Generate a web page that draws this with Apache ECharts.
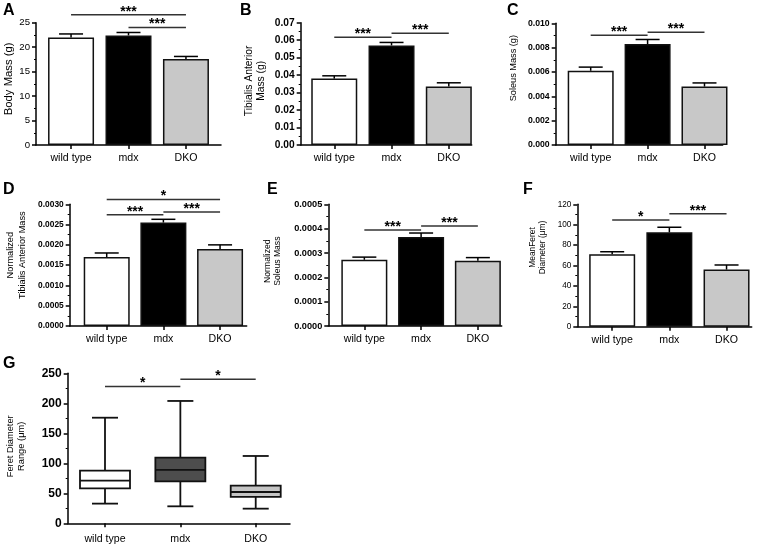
<!DOCTYPE html>
<html><head><meta charset="utf-8">
<script src="https://cdn.jsdelivr.net/npm/echarts@6/dist/echarts.min.js"></script>
<style>html,body{margin:0;padding:0;background:#fff}#c{width:763px;height:546px}</style>
</head><body><div id="c"></div>
<script>
// ---------- data ----------
const categories = ['wild type', 'mdx', 'DKO'];

const bodyMass = [22.0, 22.4, 17.6];
const bodyMassSem = [0.7, 0.6, 0.5];
const bodyMassTicks = [0, 5, 10, 15, 20, 25];
const bodyMassSig = [[0, 2, 26.6], [1, 2, 24.0]];
const bodyMassSigLabels = ['***', '***'];

const taMass = [0.038, 0.057, 0.0335];
const taMassSem = [0.0016, 0.0017, 0.0021];
const taMassTicks = [0, 0.01, 0.02, 0.03, 0.04, 0.05, 0.06, 0.07];
const taMassSig = [[0, 1, 0.0617], [1, 2, 0.0639]];
const taMassSigLabels = ['***', '***'];

const soleusMass = [0.0061, 0.0083, 0.0048];
const soleusMassSem = [0.0003, 0.00037, 0.0003];
const soleusMassTicks = [0, 0.002, 0.004, 0.006, 0.008, 0.010];
const soleusMassSig = [[0, 1, 0.00901], [1, 2, 0.00926]];
const soleusMassSigLabels = ['***', '***'];

const normTA = [0.0017, 0.00255, 0.0019];
const normTASem = [0.0001, 0.00008, 0.0001];
const normTATicks = [0, 0.0005, 0.0010, 0.0015, 0.0020, 0.0025, 0.0030];
const normTASig = [[0, 2, 0.00312], [0, 1, 0.00274], [1, 2, 0.00281]];
const normTASigLabels = ['*', '***', '***'];

const normSoleus = [0.000272, 0.000366, 0.000268];
const normSoleusSem = [0.000011, 0.000016, 0.000013];
const normSoleusTicks = [0, 0.0001, 0.0002, 0.0003, 0.0004, 0.0005];
const normSoleusSig = [[0, 1, 0.000394], [1, 2, 0.000411]];
const normSoleusSigLabels = ['***', '***'];

const meanFeret = [71, 92.5, 56];
const meanFeretSem = [2.5, 5, 4.5];
const meanFeretTicks = [0, 20, 40, 60, 80, 100, 120];
const meanFeretSig = [[0, 1, 104.6], [1, 2, 110.8]];
const meanFeretSigLabels = ['*', '***'];

// box: [min, Q1, median, Q3, max]
const feretRangeBoxes = [
  [32.8, 58.3, 71.1, 87.8, 176],
  [28.3, 70, 88.9, 109.4, 203.9],
  [24.4, 43.9, 52.2, 62.8, 112.2]
];
const feretRangeTicks = [0, 50, 100, 150, 200, 250];
const feretRangeSig = [[0, 1, 227.8], [1, 2, 240]];
const feretRangeSigLabels = ['*', '*'];

// ---------- styles ----------
const FONT = '"Liberation Sans", Arial, sans-serif';
const barFills = ['#ffffff', '#000000', '#c8c8c8'];
const boxFills = ['#ffffff', '#4d4d4d', '#c4c4c4'];

const panels = [
  {letter: 'A', lx: 3, ly: 3, grid: {left: 36, top: 22.7, width: 185, height: 122.3}, xMin: -0.61, xMax: 2.61,
   name: 'Body Mass (g)', nameGap: 21, nameSize: 11.3, nameLH: 12, nameShift: 5, tickSize: 9.6, tickWeight: 'normal', dec: 0,
   vals: bodyMass, sem: bodyMassSem, ticks: bodyMassTicks, sig: bodyMassSig, sigL: bodyMassSigLabels},
  {letter: 'B', lx: 240, ly: 3, grid: {left: 300.7, top: 22.7, width: 171, height: 122.3}, xMin: -0.586, xMax: 2.40,
   name: 'Tibialis Anterior\nMass (g)', nameGap: 34, nameSize: 10.3, nameLH: 12, nameShift: 3, tickSize: 10.2, tickWeight: 'bold', dec: 2,
   vals: taMass, sem: taMassSem, ticks: taMassTicks, sig: taMassSig, sigL: taMassSigLabels},
  {letter: 'C', lx: 507, ly: 3, grid: {left: 555.7, top: 23.3, width: 167, height: 121.7}, xMin: -0.615, xMax: 2.32,
   name: 'Soleus Mass (g)', nameGap: 37, nameSize: 9.2, nameLH: 11, nameShift: 16, tickSize: 8.7, tickWeight: 'bold', dec: 3,
   vals: soleusMass, sem: soleusMassSem, ticks: soleusMassTicks, sig: soleusMassSig, sigL: soleusMassSigLabels},
  {letter: 'D', lx: 3, ly: 182, grid: {left: 69.7, top: 204.3, width: 177, height: 121.7}, xMin: -0.653, xMax: 2.47,
   name: 'Normalized\nTibialis Anterior Mass', nameGap: 41, nameSize: 9.2, nameLH: 12, nameShift: 10, tickSize: 8.4, tickWeight: 'bold', dec: 4,
   vals: normTA, sem: normTASem, ticks: normTATicks, sig: normTASig, sigL: normTASigLabels},
  {letter: 'E', lx: 267, ly: 182, grid: {left: 328.3, top: 204.3, width: 173.4, height: 121.7}, xMin: -0.635, xMax: 2.42,
   name: 'Normalized\nSoleus Mass', nameGap: 46, nameSize: 8.6, nameLH: 10, nameShift: 4, tickSize: 9.2, tickWeight: 'bold', dec: 4,
   vals: normSoleus, sem: normSoleusSem, ticks: normSoleusTicks, sig: normSoleusSig, sigL: normSoleusSigLabels},
  {letter: 'F', lx: 523, ly: 182, grid: {left: 577.3, top: 204.3, width: 174.4, height: 122.4}, xMin: -0.61, xMax: 2.44,
   name: 'MeanFeret\nDiameter (\u03bcm)', nameGap: 30, nameSize: 8.4, nameLH: 10, nameShift: 18, tickSize: 8.2, tickWeight: 'normal', dec: 0,
   vals: meanFeret, sem: meanFeretSem, ticks: meanFeretTicks, sig: meanFeretSig, sigL: meanFeretSigLabels},
  {letter: 'G', lx: 3, ly: 356, grid: {left: 67.7, top: 373.3, width: 222.3, height: 150}, xMin: -0.495, xMax: 2.455,
   name: 'Feret Diameter\nRange (\u03bcm)', nameGap: 41, nameSize: 9.3, nameLH: 11, nameShift: 2, tickSize: 12, tickWeight: 'bold', dec: 0,
   boxes: feretRangeBoxes, ticks: feretRangeTicks, sig: feretRangeSig, sigL: feretRangeSigLabels, labelMargin: 10}
];

function errRender(params, api) {
  const x = api.value(0);
  const p0 = api.coord([x, api.value(1)]);
  const p1 = api.coord([x, api.value(2)]);
  const st = {stroke: '#000', lineWidth: 1.5};
  return {type: 'group', children: [
    {type: 'line', shape: {x1: p0[0], y1: p0[1], x2: p1[0], y2: p1[1]}, style: st},
    {type: 'line', shape: {x1: p1[0] - 12, y1: p1[1], x2: p1[0] + 12, y2: p1[1]}, style: st}
  ]};
}

function sigRender(labels) {
  return function (params, api) {
    const a = api.coord([api.value(0), api.value(2)]);
    const b = api.coord([api.value(1), api.value(2)]);
    return {type: 'group', children: [
      {type: 'line', shape: {x1: a[0], y1: a[1], x2: b[0], y2: b[1]}, style: {stroke: '#333', lineWidth: 1.5}},
      {type: 'text', x: (a[0] + b[0]) / 2, y: a[1] + 4,
       style: {text: labels[params.dataIndex], fill: '#000', fontSize: 14, fontWeight: 'bold', fontFamily: FONT,
               align: 'center', verticalAlign: 'bottom'}}
    ]};
  };
}

function boxRender(params, api) {
  const x = api.value(0);
  const c = i => api.coord([x, api.value(i)]);
  const pMin = c(1), pQ1 = c(2), pMed = c(3), pQ3 = c(4), pMax = c(5);
  const cx = pMin[0], hw = 25, cw = 13;
  const st = {stroke: '#111', lineWidth: 1.8};
  return {type: 'group', children: [
    {type: 'line', shape: {x1: cx, y1: pMin[1], x2: cx, y2: pQ1[1]}, style: st},
    {type: 'line', shape: {x1: cx, y1: pQ3[1], x2: cx, y2: pMax[1]}, style: st},
    {type: 'line', shape: {x1: cx - cw, y1: pMin[1], x2: cx + cw, y2: pMin[1]}, style: st},
    {type: 'line', shape: {x1: cx - cw, y1: pMax[1], x2: cx + cw, y2: pMax[1]}, style: st},
    {type: 'rect', shape: {x: cx - hw, y: pQ3[1], width: 2 * hw, height: pQ1[1] - pQ3[1]},
     style: {fill: boxFills[params.dataIndex], stroke: '#111', lineWidth: 1.8}},
    {type: 'line', shape: {x1: cx - hw, y1: pMed[1], x2: cx + hw, y2: pMed[1]}, style: st}
  ]};
}

const option = {animation: false, backgroundColor: '#fff', textStyle: {fontFamily: FONT},
  title: [], grid: [], xAxis: [], yAxis: [], series: []};

panels.forEach((p, i) => {
  option.title.push({text: p.letter, left: p.lx, top: p.ly, padding: 0,
    textStyle: {fontSize: 16, fontWeight: 'bold', color: '#000', fontFamily: FONT}});
  option.grid.push(Object.assign({containLabel: false}, p.grid));
  option.xAxis.push({type: 'value', gridIndex: i, min: p.xMin, max: p.xMax,
    axisLine: {show: true, onZero: false, lineStyle: {color: '#000', width: 1.5}},
    splitLine: {show: false},
    axisTick: {show: true, customValues: [0, 1, 2], length: 4, lineStyle: {color: '#000', width: 1.5}},
    axisLabel: {show: true, customValues: [0, 1, 2], formatter: v => categories[Math.round(v)],
      fontSize: 10.6, color: '#000', margin: p.labelMargin || 8, fontFamily: FONT}
  });
  const t = p.ticks;
  option.yAxis.push({type: 'value', gridIndex: i, min: t[0], max: t[t.length - 1], interval: t[1] - t[0],
    axisLine: {show: true, onZero: false, lineStyle: {color: '#000', width: 1.5}},
    splitLine: {show: false},
    axisTick: {show: true, length: 4, lineStyle: {color: '#000', width: 1.5}},
    minorTick: {show: true, splitNumber: 2, length: 2, lineStyle: {color: '#000', width: 1}},
    axisLabel: {formatter: v => v.toFixed(p.dec), fontSize: p.tickSize, fontWeight: p.tickWeight, color: '#000', margin: 6, fontFamily: FONT},
    name: p.name, nameLocation: 'middle', nameGap: p.nameGap,
    nameTextStyle: {fontSize: p.nameSize, lineHeight: p.nameLH, color: '#000', fontFamily: FONT,
      padding: [0, 0, 0, 2 * p.nameShift]}
  });
  if (p.vals) {
    option.series.push({type: 'bar', xAxisIndex: i, yAxisIndex: i, barWidth: 46, z: 2,
      data: p.vals.map((v, k) => ({value: [k, v], itemStyle: {color: barFills[k], borderColor: '#111', borderWidth: 1.5}}))});
    option.series.push({type: 'custom', xAxisIndex: i, yAxisIndex: i, z: 3, clip: false,
      encode: {x: 0, y: [1, 2]}, renderItem: errRender,
      data: p.vals.map((v, k) => [k, v, v + p.sem[k]])});
  } else {
    option.series.push({type: 'custom', xAxisIndex: i, yAxisIndex: i, z: 3, clip: false,
      encode: {x: 0, y: [1, 2, 3, 4, 5]}, renderItem: boxRender,
      data: p.boxes.map((b, k) => [k].concat(b))});
  }
  option.series.push({type: 'custom', xAxisIndex: i, yAxisIndex: i, z: 4, clip: false,
    encode: {x: [0, 1], y: 2}, renderItem: sigRender(p.sigL), data: p.sig});
});

const chart = echarts.init(document.getElementById('c'), null, {renderer: 'canvas'});
chart.setOption(option);
</script></body></html>
